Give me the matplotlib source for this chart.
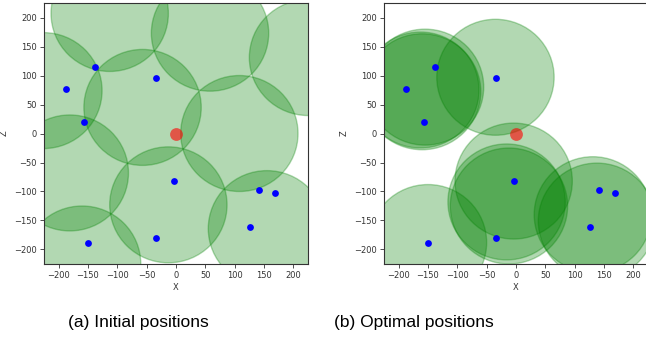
import matplotlib.pyplot as plt
from matplotlib.patches import Circle

# user positions (blue dots)
user_x = [-138, -187, -34, -157, -4, 141, 168, 126, -34, -150]
user_z = [115, 77, 96, 20, -82, -97, -103, -162, -180, -189]

# base station at origin
bs_x, bs_z = 0, 0

# coverage radius
radius = 100

# initial circle centres
init_x = [-113, 58, 225, -226, -57, 108, -181, -160, -13, 155]
init_z = [207, 173, 131, 74, 45, 0, -68, -225, -123, -164]

# optimal circle centres
opt_x = [-155, -163, -160, -35, -150, -4, -16, -12, 131, 138]
opt_z = [80, 75, 72, 97, -188, -82, -118, -125, -140, -151]

ticks = [-200, -150, -100, -50, 0, 50, 100, 150, 200]

fig = plt.figure(figsize=(6.46, 3.38), dpi=100)
ax1 = fig.add_axes([0.0681, 0.219, 0.4087, 0.772])
ax2 = fig.add_axes([0.5944, 0.219, 0.4087, 0.772])


def draw(ax, cx, cz):
    for x, z in zip(cx, cz):
        ax.add_patch(Circle((x, z), radius, color='green', alpha=0.3, lw=1))
    ax.scatter(user_x, user_z, s=24, c='blue', zorder=3, lw=0)
    ax.scatter([bs_x], [bs_z], s=85, c='red', alpha=0.6, zorder=3, lw=0)
    ax.set_xlim(-225, 225)
    ax.set_ylim(-225, 225)
    ax.set_xticks(ticks)
    ax.set_yticks(ticks)
    ax.tick_params(labelsize=6, length=3, width=0.6, pad=2, colors='#333333')
    ax.set_xlabel('X', fontsize=6, color='#333333', labelpad=2)
    ax.set_ylabel('Z', fontsize=6, color='#333333', labelpad=4)
    for s in ax.spines.values():
        s.set_color('#333333')
        s.set_linewidth(0.8)


draw(ax1, init_x, init_z)
draw(ax2, opt_x, opt_z)

fig.text(138.5 / 646, 1 - 323 / 338, '(a) Initial positions', ha='center', va='center',
         fontsize=12.5, family='Liberation Sans')
fig.text(413.5 / 646, 1 - 323 / 338, '(b) Optimal positions', ha='center', va='center',
         fontsize=12.5, family='Liberation Sans')

fig.savefig('out.png', dpi=100)
